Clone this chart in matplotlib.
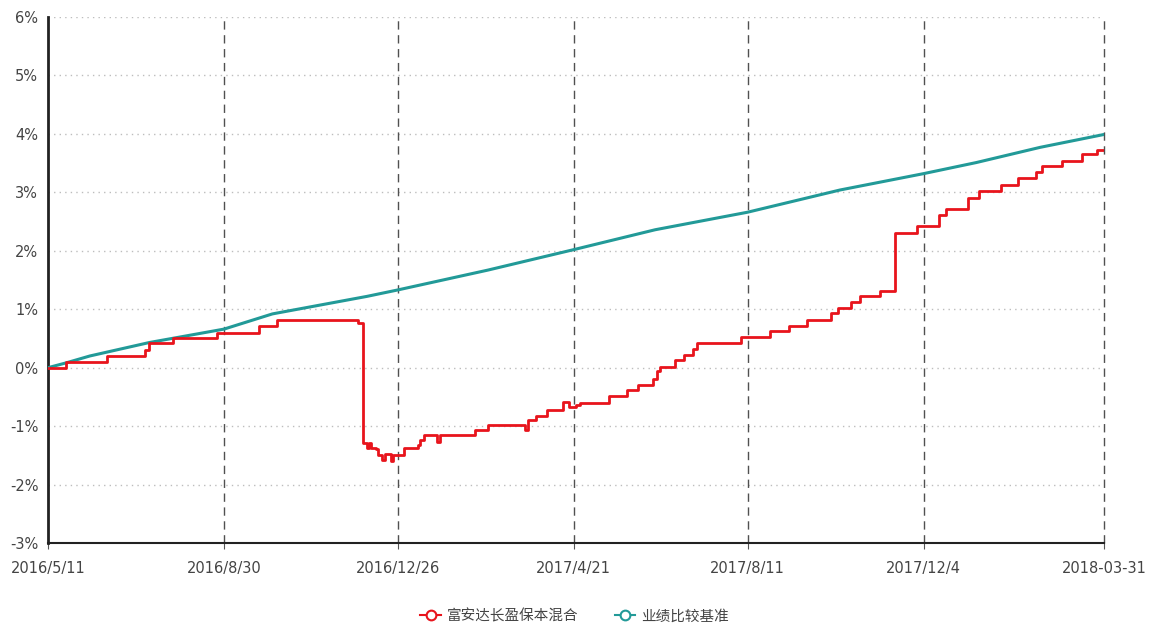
import numpy as np
import matplotlib.pyplot as plt
from matplotlib.lines import Line2D

plt.rcParams['font.family'] = ['DejaVu Sans']

# ============================================================
# Data (x = trading-day position, y = cumulative return %)
# ============================================================

tick_pos = [0, 80, 159, 239, 318, 398, 480]
tick_labels = ['2016/5/11', '2016/8/30', '2016/12/26', '2017/4/21',
               '2017/8/11', '2017/12/4', '2018-03-31']

fund_name = '富安达长盈保本混合'
bench_name = '业绩比较基准'

fund_x = [0, 8, 27, 44, 46, 57, 77, 96, 104, 141, 143, 145, 146, 147, 149,
          150, 152, 153, 155, 156, 157, 161, 162, 168, 169, 171, 176, 177,
          178, 194, 200, 215, 217, 218, 222, 227, 234, 237, 240, 242, 255,
          263, 268, 275, 277, 278, 285, 289, 293, 295, 315, 328, 337, 345,
          356, 359, 365, 369, 378, 385, 395, 405, 408, 418, 423, 433, 441,
          449, 452, 461, 470, 477, 480]
fund_y = [0.00, 0.10, 0.20, 0.31, 0.42, 0.51, 0.60, 0.72, 0.82, 0.76, -1.29,
          -1.37, -1.29, -1.37, -1.40, -1.49, -1.58, -1.47, -1.47, -1.59,
          -1.49, -1.49, -1.37, -1.32, -1.24, -1.16, -1.16, -1.27, -1.16,
          -1.07, -0.98, -0.98, -1.06, -0.90, -0.82, -0.73, -0.59, -0.68,
          -0.64, -0.60, -0.49, -0.39, -0.29, -0.19, -0.06, 0.02, 0.13, 0.22,
          0.32, 0.43, 0.53, 0.62, 0.72, 0.82, 0.93, 1.02, 1.12, 1.22, 1.32,
          2.31, 2.42, 2.61, 2.72, 2.91, 3.02, 3.12, 3.25, 3.34, 3.45, 3.54,
          3.65, 3.73, 3.73]

bench_x = [0, 8, 19, 46, 80, 102, 145, 159, 200, 239, 276, 318, 360, 398,
           422, 451, 480]
bench_y = [0.00, 0.08, 0.20, 0.43, 0.66, 0.92, 1.22, 1.33, 1.67, 2.02, 2.36,
           2.66, 3.04, 3.32, 3.51, 3.77, 3.99]

# ============================================================
# Figure
# ============================================================

fund_color = '#e8141c'
bench_color = '#229a98'

fig = plt.figure(figsize=(11.49, 6.23), dpi=100)
ax = fig.add_axes([0.0418, 0.1284, 0.9190, 0.8443])

ax.set_xlim(tick_pos[0], tick_pos[-1])
ax.set_ylim(-3, 6)

# grid
for v in range(-2, 7):
    ax.axhline(v, color='#bdbdbd', linestyle=(0, (1, 3)), linewidth=1, zorder=1)
for p in tick_pos[1:]:
    ax.axvline(p, color='#505050', linestyle=(0, (6, 4)), linewidth=1,
               zorder=1, clip_on=False)

# series
ax.plot(bench_x, bench_y, color=bench_color, linewidth=2.2, zorder=3)
ax.plot(fund_x, fund_y, color=fund_color, linewidth=2.0,
        drawstyle='steps-post', zorder=4)

# axes styling
for s in ['top', 'right']:
    ax.spines[s].set_visible(False)
ax.spines['left'].set_linewidth(2)
ax.spines['left'].set_color('#222222')
ax.spines['bottom'].set_linewidth(1.5)
ax.spines['bottom'].set_color('#222222')

ax.set_yticks(range(-3, 7))
ax.set_yticklabels([f'{v}%' for v in range(-3, 7)])
ax.set_xticks(tick_pos)
ax.set_xticklabels(tick_labels)
ax.tick_params(axis='y', length=0, pad=7, labelsize=10.5, labelcolor='#444444')
ax.tick_params(axis='x', length=4, pad=9, labelsize=10.5, labelcolor='#444444',
               color='#555555')

# legend
handles = [
    Line2D([], [], color=fund_color, linewidth=1.5, marker='o',
           markersize=7, markerfacecolor='white', markeredgewidth=1.5),
    Line2D([], [], color=bench_color, linewidth=1.5, marker='o',
           markersize=7, markerfacecolor='white', markeredgewidth=1.5),
]
fig.legend(handles, [fund_name, bench_name], loc='lower center',
           bbox_to_anchor=(0.5, -0.022), ncol=2, frameon=False,
           handlelength=1.4, columnspacing=2.5, handletextpad=0.4,
           prop={'family': ['Noto Sans CJK SC', 'DejaVu Sans'], 'size': 10.5},
           labelcolor='#444444')

fig.savefig('out.png', dpi=100)
